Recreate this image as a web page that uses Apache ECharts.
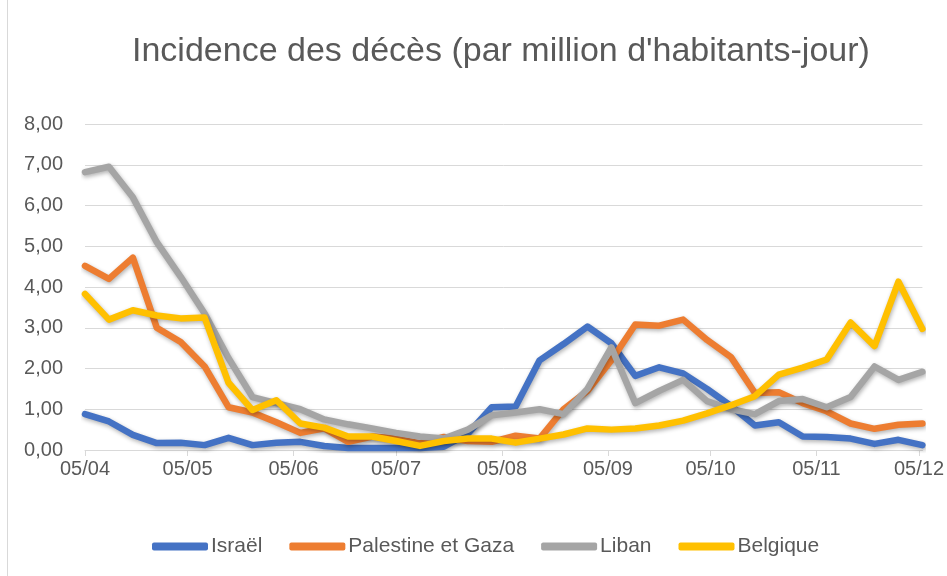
<!DOCTYPE html>
<html>
<head>
<meta charset="utf-8">
<script src="https://cdn.jsdelivr.net/npm/echarts@6/dist/echarts.min.js"></script>
<style>
  html, body { margin: 0; padding: 0; background: #fff; }
  #chart { width: 947px; height: 576px; }
</style>
</head>
<body>
<div id="chart"></div>
<script>
// semaines (lundi) 2021
var dates = ['2021-04-05', '2021-04-12', '2021-04-19', '2021-04-26', '2021-05-03', '2021-05-10',
  '2021-05-17', '2021-05-24', '2021-05-31', '2021-06-07', '2021-06-14', '2021-06-21',
  '2021-06-28', '2021-07-05', '2021-07-12', '2021-07-19', '2021-07-26', '2021-08-02',
  '2021-08-09', '2021-08-16', '2021-08-23', '2021-08-30', '2021-09-06', '2021-09-13',
  '2021-09-20', '2021-09-27', '2021-10-04', '2021-10-11', '2021-10-18', '2021-10-25',
  '2021-11-01', '2021-11-08', '2021-11-15', '2021-11-22', '2021-11-29', '2021-12-06'];

var israel = [0.88, 0.7, 0.37, 0.17, 0.18, 0.12, 0.3, 0.12, 0.18, 0.2, 0.1, 0.05,
  0.05, 0.05, 0.05, 0.08, 0.4, 1.05, 1.07, 2.2, 2.6, 3.03,
  2.62, 1.82, 2.03, 1.88, 1.5, 1.08, 0.6, 0.68, 0.33, 0.32,
  0.28, 0.15, 0.25, 0.12];

var palestine = [4.52, 4.2, 4.72, 3.0, 2.65, 2.05, 1.05, 0.92, 0.68, 0.42, 0.53, 0.2,
  0.33, 0.28, 0.16, 0.32, 0.22, 0.2, 0.35, 0.28, 1.0, 1.45,
  2.2, 3.08, 3.05, 3.2, 2.7, 2.28, 1.4, 1.42, 1.15, 0.95,
  0.65, 0.52, 0.62, 0.65];

var liban = [6.82, 6.95, 6.2, 5.1, 4.25, 3.35, 2.25, 1.3, 1.15, 1.0, 0.75, 0.63,
  0.53, 0.42, 0.33, 0.28, 0.5, 0.85, 0.92, 1.0, 0.88, 1.5,
  2.52, 1.15, 1.45, 1.72, 1.2, 1.0, 0.88, 1.2, 1.25, 1.05,
  1.3, 2.05, 1.72, 1.92];

var belgique = [3.83, 3.2, 3.43, 3.3, 3.23, 3.25, 1.65, 0.98, 1.22, 0.65, 0.55, 0.33,
  0.33, 0.22, 0.1, 0.22, 0.28, 0.28, 0.18, 0.28, 0.38, 0.53,
  0.5, 0.53, 0.6, 0.72, 0.9, 1.1, 1.32, 1.85, 2.02, 2.22,
  3.13, 2.55, 4.13, 2.97];

// graduations de l'axe des dates (le 5 de chaque mois)
var monthTicks = ['2021-04-05', '2021-05-05', '2021-06-05', '2021-07-05', '2021-08-05',
  '2021-09-05', '2021-10-05', '2021-11-05', '2021-12-05'];

var seriesNames = ['Israël', 'Palestine et Gaza', 'Liban', 'Belgique'];
var seriesColors = ['#4472C4', '#ED7D31', '#A5A5A5', '#FFC000'];
var seriesValues = [israel, palestine, liban, belgique];

var FONT = 'Liberation Sans';

function toTime(s) {
  var p = s.split('-');
  return Date.UTC(+p[0], +p[1] - 1, +p[2]);
}
function pad(n) { return (n < 10 ? '0' : '') + n; }

var tickTimes = monthTicks.map(toTime);

var chart = echarts.init(document.getElementById('chart'));

var option = {
  backgroundColor: '#fff',
  animation: false,
  title: {
    text: "Incidence des décès (par million d'habitants-jour)",
    left: 127,
    top: 30,
    textStyle: { fontFamily: FONT, fontSize: 34, fontWeight: 'normal', color: '#595959' }
  },
  legend: {
    left: 147,
    top: 531,
    icon: 'roundRect',
    itemWidth: 56,
    itemHeight: 8,
    itemGap: 27,
    data: seriesNames,
    textStyle: { fontFamily: FONT, fontSize: 21, color: '#595959', padding: [0, 0, 0, -2] }
  },
  grid: { left: 85, right: 24, top: 124, bottom: 126, containLabel: false },
  xAxis: {
    type: 'value',
    min: toTime('2021-04-05'),
    max: toTime('2021-12-06'),
    axisLine: { show: true, lineStyle: { color: '#D9D9D9', width: 1 } },
    axisTick: { show: true, length: 6, customValues: tickTimes, lineStyle: { color: '#D9D9D9' } },
    splitLine: { show: false },
    axisLabel: {
      customValues: tickTimes,
      margin: 9,
      fontFamily: FONT,
      fontSize: 20,
      color: '#595959',
      formatter: function (v) {
        var d = new Date(v);
        return pad(d.getUTCDate()) + '/' + pad(d.getUTCMonth() + 1);
      }
    }
  },
  yAxis: {
    type: 'value',
    min: 0,
    max: 8,
    interval: 1,
    axisLine: { show: false },
    axisTick: { show: false },
    splitLine: { lineStyle: { color: '#D9D9D9', width: 1 } },
    axisLabel: {
      margin: 22,
      fontFamily: FONT,
      fontSize: 20,
      color: '#595959',
      formatter: function (v) { return v.toFixed(2).replace('.', ','); }
    }
  },
  graphic: [{
    type: 'rect',
    silent: true,
    shape: { x: 7.5, y: -10, width: 960, height: 600 },
    style: { fill: 'none', stroke: '#D9D9D9', lineWidth: 1 }
  }],
  series: seriesNames.map(function (name, k) {
    return {
      name: name,
      type: 'line',
      symbol: 'none',
      color: seriesColors[k],
      lineStyle: {
        width: 6.5,
        color: seriesColors[k],
        cap: 'round',
        join: 'round',
        shadowBlur: 4,
        shadowColor: 'rgba(0,0,0,0.3)',
        shadowOffsetX: 1,
        shadowOffsetY: 2
      },
      data: dates.map(function (d, i) { return [toTime(d), seriesValues[k][i]]; })
    };
  })
};

chart.setOption(option);
</script>
</body>
</html>
